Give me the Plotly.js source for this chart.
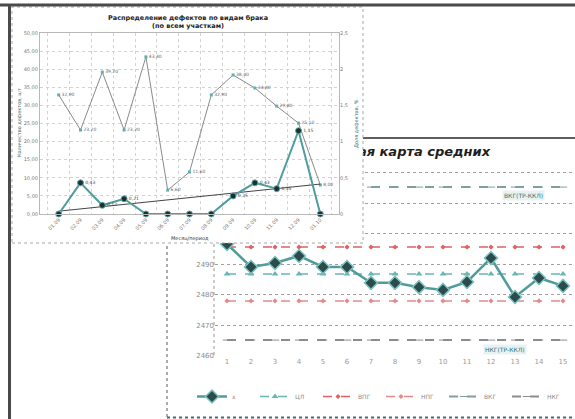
<!DOCTYPE html>
<html><head><meta charset="utf-8">
<script src="https://cdn.plot.ly/plotly-3.0.1.min.js"></script>
<style>html,body{margin:0;padding:0;background:#fff}#chart{width:575px;height:419px}</style>
</head><body><div id="chart"></div>
<script>
// ---------- Chart 1 (top-left, on top) ----------
const periods = ['01.09','02.09','03.09','04.09','05.09','06.09','07.09','08.09','09.09','10.09','11.09','12.09','01.10'];
const shareValues = [32.9, 23.2, 39.2, 23.2, 43.4, 6.6, 11.6, 32.9, 38.4, 34.8, 29.8, 25.1, 8.0];
const defectValues = [0, 0.43, 0.12, 0.21, 0, 0, 0, 0, 0.25, 0.43, 0.35, 1.15, 0];
const chart1Title = 'Распределение дефектов по видам брака<br>(по всем участкам)';
const chart1XTitle = 'Месяц/период';
const chart1YTitle = 'Количество дефектов, шт';
const chart1Y2Title = 'Доля дефектов, %';

// ---------- Chart 2 (control chart of means, underneath) ----------
const samples = [1,2,3,4,5,6,7,8,9,10,11,12,13,14,15];
const sampleLabels = samples.map(String);
const means = [2496.6, 2489.1, 2490.4, 2492.7, 2489.1, 2489.1, 2483.9, 2483.9, 2482.5, 2481.6, 2484.2, 2492.0, 2479.3, 2485.5, 2482.9];
const centerLine = 2486.8;
const upperWarning = 2495.6;
const lowerWarning = 2478.0;
const upperControl = 2515.2;
const lowerControl = 2465.2;
const yTickVals = [2460, 2470, 2480, 2490, 2500, 2510, 2520];
const yTickText = ['2460', '2470', '2480', '2490', '', '', ''];   // upper ones lie under chart 1
const chart2Title = 'Контрольная карта средних';
const seriesNames = ['x', 'ЦЛ', 'ВПГ', 'НПГ', 'ВКГ', 'НКГ'];
const uclLabel = 'ВКГ(ТР-ККЛ)';
const lclLabel = 'НКГ(ТР-ККЛ)';

// linear trend (least squares) of defectValues, as the spreadsheet trendline
const n = defectValues.length;
const idx = defectValues.map((_, i) => i);
const mx = idx.reduce((a, b) => a + b, 0) / n;
const my = defectValues.reduce((a, b) => a + b, 0) / n;
let sxy = 0, sxx = 0;
idx.forEach((i) => { sxy += (i - mx) * (defectValues[i] - my); sxx += (i - mx) * (i - mx); });
const slope = sxy / sxx;
const trend = idx.map(i => my + slope * (i - mx));

const W = 575, H = 419;
const px = v => v / W;
const py = v => 1 - v / H;

const teal = '#4f9c9c';
const flat = v => samples.map(() => v);

const data = [
  {x: samples, y: flat(upperControl), name: seriesNames[4], legendrank: 5, mode: 'lines+markers',
   line: {color: '#7f9f9f', width: 2, dash: 'dash'}, marker: {symbol: 'line-ew', size: 6, line: {color: '#7f9f9f', width: 1}}, xaxis: 'x', yaxis: 'y'},
  {x: samples, y: flat(upperWarning), name: seriesNames[2], legendrank: 3, mode: 'lines+markers',
   line: {color: '#e06262', width: 1.5, dash: 'dash'}, marker: {symbol: 'diamond', size: 4, color: '#e06262'}, xaxis: 'x', yaxis: 'y'},
  {x: samples, y: flat(centerLine), name: seriesNames[1], legendrank: 2, mode: 'lines+markers',
   line: {color: '#6ab5b5', width: 1.5, dash: 'dash'}, marker: {symbol: 'triangle-up', size: 6, color: '#6ab5b5'}, xaxis: 'x', yaxis: 'y'},
  {x: samples, y: flat(lowerWarning), name: seriesNames[3], legendrank: 4, mode: 'lines+markers',
   line: {color: '#e48a8a', width: 1.5, dash: 'dash'}, marker: {symbol: 'diamond', size: 4, color: '#e48a8a'}, xaxis: 'x', yaxis: 'y'},
  {x: samples, y: flat(lowerControl), name: seriesNames[5], legendrank: 6, mode: 'lines+markers',
   line: {color: '#8c8c8c', width: 2, dash: 'dash'}, marker: {symbol: 'line-ew', size: 6, line: {color: '#8c8c8c', width: 1}}, xaxis: 'x', yaxis: 'y'},
  {x: samples, y: means, name: seriesNames[0], legendrank: 1, mode: 'lines+markers',
   line: {color: teal, width: 2.5}, marker: {symbol: 'diamond', size: 10, color: '#2c4c4c', line: {color: '#7cc0c0', width: 1.5}},
   xaxis: 'x', yaxis: 'y'},
  // chart 2 title (inside chart 2's layer, so chart 1 hides its beginning)
  {x: [7.52], y: [2526.3], mode: 'text', text: [chart2Title], cliponaxis: false, showlegend: false, hoverinfo: 'skip',
   textfont: {family: 'DejaVu Sans', size: 13, color: '#1e1e1e', weight: 'bold', style: 'italic'}, xaxis: 'x', yaxis: 'y'},
  // cover subplot (chart 1 sheet background)
  {x: [0.5], y: [0.5], mode: 'markers', marker: {opacity: 0}, showlegend: false, hoverinfo: 'skip', xaxis: 'x2', yaxis: 'y2'},
  // chart 1 series
  {x: periods, y: shareValues, mode: 'lines+markers+text', showlegend: false, line: {color: '#8a8a8a', width: 1},
   marker: {symbol: 'square', size: 3, color: '#5fb0b0'}, text: shareValues.map(v => v.toFixed(2).replace('.', ',')),
   textposition: 'middle right', textfont: {size: 4.5, color: '#666'}, cliponaxis: false, xaxis: 'x3', yaxis: 'y3'},
  {x: periods, y: trend, mode: 'lines', showlegend: false, line: {color: '#444', width: 1}, xaxis: 'x3', yaxis: 'y4'},
  {x: periods, y: defectValues, mode: 'lines+markers+text', showlegend: false, line: {color: teal, width: 2},
   marker: {symbol: 'circle', size: 6, color: '#1f2f2f', line: {color: '#5fa8a8', width: 1}},
   text: defectValues.map(v => v > 0 ? v.toFixed(2).replace('.', ',') : ''),
   textposition: 'middle right', textfont: {size: 4.5, color: '#444'}, cliponaxis: false, xaxis: 'x3', yaxis: 'y4'}
];

const layout = {
  width: W, height: H,
  margin: {l: 0, r: 0, t: 0, b: 0, autoexpand: false},
  paper_bgcolor: '#ffffff', plot_bgcolor: '#ffffff',
  separators: ', ',
  font: {family: 'DejaVu Sans', color: '#555'},
  showlegend: true,
  legend: {orientation: 'h', x: px(192), xanchor: 'left', y: py(382), yanchor: 'top',
           font: {size: 6, color: '#8a8a8a'}, entrywidth: 18, entrywidthmode: 'pixels',
           bgcolor: 'rgba(0,0,0,0)', traceorder: 'normal'},
  // chart 2 axes
  xaxis: {domain: [px(215), 1], range: [0.5, 15.5], tickvals: samples, ticktext: sampleLabels,
          showgrid: false, zeroline: false, showline: false, ticks: '',
          tickfont: {size: 7, color: '#9a9a9a'}, anchor: 'y', fixedrange: true},
  yaxis: {domain: [py(356), py(144)], range: [2460, 2460 + 212 / 3.06], tickvals: yTickVals, ticktext: yTickText,
          showgrid: true, griddash: 'dot', gridcolor: '#a0a0a0', gridwidth: 1, zeroline: false,
          showline: false, ticks: '', tickfont: {size: 7, color: '#8a8a8a'}, anchor: 'x', fixedrange: true},
  // cover subplot = chart 1 sheet
  xaxis2: {domain: [px(12), px(363)], range: [0, 1], visible: false, anchor: 'y2', fixedrange: true},
  yaxis2: {domain: [py(243), py(7)], range: [0, 1], visible: false, anchor: 'x2', fixedrange: true},
  // chart 1 axes
  xaxis3: {type: 'category', domain: [px(40), px(339)], anchor: 'y3', tickson: 'boundaries',
           showgrid: true, griddash: 'dot', gridcolor: '#d2d2d2', ticks: '', tickangle: -45,
           tickfont: {size: 5, color: '#777'}, showline: true, linecolor: '#b8b8b8', mirror: true,
           zeroline: false, fixedrange: true},
  yaxis3: {domain: [py(214), py(33)], range: [0, 50], tick0: 0, dtick: 5, tickformat: '.2f',
           showgrid: true, griddash: 'dot', gridcolor: '#d2d2d2', ticks: '', zeroline: false,
           tickfont: {size: 5, color: '#777'}, showline: true, linecolor: '#b8b8b8', mirror: true,
           anchor: 'x3', fixedrange: true},
  yaxis4: {overlaying: 'y3', side: 'right', range: [0, 2.5], tick0: 0, dtick: 0.5, showgrid: false,
           zeroline: false, showline: false, ticks: '', tickfont: {size: 5, color: '#777'},
           anchor: 'x3', fixedrange: true},
  annotations: [
    {xref: 'paper', yref: 'paper', x: px(188), y: py(22), text: '<b>' + chart1Title + '</b>', showarrow: false,
     font: {size: 6.5, color: '#222'}, xanchor: 'center', yanchor: 'middle'},
    {xref: 'paper', yref: 'paper', x: px(190), y: py(238.5), text: chart1XTitle, showarrow: false,
     font: {size: 5, color: '#333'}, xanchor: 'center', yanchor: 'middle'},
    {xref: 'paper', yref: 'paper', x: px(19), y: py(123), text: chart1YTitle, textangle: -90, showarrow: false,
     font: {size: 5, color: '#3d6e6e'}, xanchor: 'center', yanchor: 'middle'},
    {xref: 'paper', yref: 'paper', x: px(357), y: py(124), text: chart1Y2Title, textangle: -90, showarrow: false,
     font: {size: 5, color: '#3d6e6e'}, xanchor: 'center', yanchor: 'middle'},
    {xref: 'paper', yref: 'paper', x: px(523), y: py(196), text: uclLabel, showarrow: false,
     font: {size: 6, color: '#2d7474'}, bgcolor: '#e8f2f2', xanchor: 'center', yanchor: 'middle'},
    {xref: 'paper', yref: 'paper', x: px(505), y: py(349), text: lclLabel, showarrow: false,
     font: {size: 6, color: '#2d7474'}, bgcolor: '#e8f2f2', xanchor: 'center', yanchor: 'middle'}
  ],
  shapes: [
    {type: 'line', xref: 'paper', yref: 'paper', x0: px(167), x1: 1, y0: py(138), y1: py(138), layer: 'below',
     line: {color: '#5e5e5e', width: 2}},
    {type: 'line', xref: 'paper', yref: 'paper', x0: px(167), x1: px(167), y0: py(138), y1: 0, layer: 'below',
     line: {color: '#8f8f8f', width: 1.5, dash: 'dot'}},
    {type: 'line', xref: 'paper', yref: 'paper', x0: px(167), x1: 1, y0: py(417.5), y1: py(417.5), layer: 'below',
     line: {color: '#4d6a6a', width: 2, dash: 'dot'}},
    {type: 'line', xref: 'paper', yref: 'paper', x0: px(214), x1: px(214), y0: py(160), y1: py(356), layer: 'below',
     line: {color: '#9a9a9a', width: 1, dash: 'dot'}},
    {type: 'rect', xref: 'paper', yref: 'paper', x0: px(12), x1: px(363), y0: py(243), y1: py(7), layer: 'above',
     line: {color: '#a8a8a8', width: 1, dash: 'dot'}},
    {type: 'line', xref: 'paper', yref: 'paper', x0: 0, x1: 1, y0: py(5), y1: py(5), layer: 'above',
     line: {color: '#4a4a4a', width: 3}},
    {type: 'line', xref: 'paper', yref: 'paper', x0: px(9.5), x1: px(9.5), y0: py(4), y1: 0, layer: 'above',
     line: {color: '#4a4a4a', width: 3}}
  ]
};

Plotly.newPlot('chart', data, layout, {staticPlot: true, displayModeBar: false});
</script>
</body></html>
